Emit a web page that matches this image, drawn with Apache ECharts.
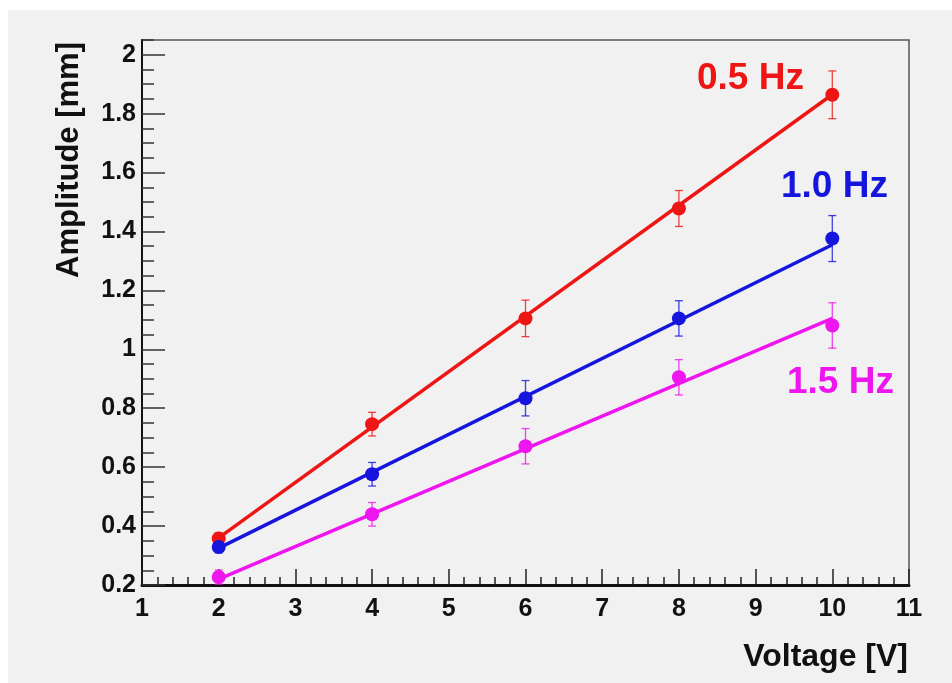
<!DOCTYPE html>
<html><head><meta charset="utf-8">
<script src="https://cdn.jsdelivr.net/npm/echarts@6/dist/echarts.min.js"></script>
<style>
html,body{margin:0;padding:0;background:#fff;}
#bg{position:absolute;left:8px;top:10px;width:944px;height:673px;background:#f1f1f1;}
#chart{position:absolute;left:0;top:0;width:952px;height:683px;}
</style></head><body>
<div id="bg"></div><div id="chart"></div>
<script>
const voltage = [2, 4, 6, 8, 10];
const amp05 = [0.358, 0.746, 1.105, 1.478, 1.864];
const err05 = [0.02, 0.04, 0.062, 0.061, 0.081];
const amp10 = [0.329, 0.576, 0.834, 1.105, 1.376];
const err10 = [0.02, 0.04, 0.06, 0.06, 0.078];
const amp15 = [0.227, 0.44, 0.671, 0.905, 1.081];
const err15 = [0.024, 0.04, 0.06, 0.06, 0.077];
const fitX = [2, 10];
const fit05 = [0.36, 1.865];
const fit10 = [0.325, 1.355];
const fit15 = [0.22, 1.105];
const seriesNames = ['0.5 Hz', '1.0 Hz', '1.5 Hz'];
const colors = ['#ee1515', '#1515dd', '#ee15ee'];

const FONT = '"Liberation Sans", Arial, Helvetica, sans-serif';
const chart = echarts.init(document.getElementById('chart'));

function errSeries(amp, err, color) {
  return {
    type: 'custom', xAxisIndex: 0, yAxisIndex: 0, z: 3, silent: true,
    data: voltage.map((v, i) => [v, amp[i], err[i]]),
    renderItem: function (params, api) {
      const x = api.value(0), y = api.value(1), e = api.value(2);
      const t = api.coord([x, y + e]), b = api.coord([x, y - e]);
      const c = 4;
      const st = { stroke: color, lineWidth: 1.3, opacity: 0.8 };
      return { type: 'group', children: [
        { type: 'line', shape: { x1: t[0], y1: t[1], x2: b[0], y2: b[1] }, style: st },
        { type: 'line', shape: { x1: t[0] - c, y1: t[1], x2: t[0] + c, y2: t[1] }, style: st },
        { type: 'line', shape: { x1: b[0] - c, y1: b[1], x2: b[0] + c, y2: b[1] }, style: st }
      ]};
    }
  };
}
function fitSeries(fit, color, name) {
  return { type: 'line', name: name, xAxisIndex: 0, yAxisIndex: 0, z: 4, symbol: 'none', silent: true,
    data: fitX.map((x, i) => [x, fit[i]]), lineStyle: { color: color, width: 3.5 } };
}
function ptSeries(amp, color, name) {
  return { type: 'scatter', name: name, xAxisIndex: 0, yAxisIndex: 0, z: 5, symbol: 'circle', symbolSize: 14, silent: true,
    data: voltage.map((v, i) => [v, amp[i]]), itemStyle: { color: color, opacity: 1 } };
}
const amps = [amp05, amp10, amp15], errs = [err05, err10, err15], fits = [fit05, fit10, fit15];
const series = [];
for (let k = 0; k < 3; k++) {
  series.push(errSeries(amps[k], errs[k], colors[k]));
  series.push(fitSeries(fits[k], colors[k], seriesNames[k]));
  series.push(ptSeries(amps[k], colors[k], seriesNames[k]));
}

chart.setOption({
  animation: false,
  grid: { left: 142, right: 43, top: 40, bottom: 98, show: true, borderColor: '#555', borderWidth: 1.5, backgroundColor: 'transparent' },
  xAxis: {
    type: 'value', min: 1, max: 11, interval: 1,
    axisLine: { show: true, onZero: false, lineStyle: { color: '#111', width: 3 } },
    axisTick: { show: true, inside: true, length: 16, lineStyle: { color: '#222', width: 1.5 } },
    minorTick: { show: true, splitNumber: 5, length: 8, lineStyle: { color: '#222', width: 1.5 } },
    splitLine: { show: false },
    axisLabel: { color: '#111', fontSize: 25, fontWeight: 'bold', fontFamily: FONT, margin: 12 }
  },
  yAxis: [{
    type: 'value', min: 0.2, max: 2.05, interval: 0.2,
    axisLine: { show: true, onZero: false, lineStyle: { color: '#111', width: 2 } },
    axisTick: { show: true, inside: true, length: 23, lineStyle: { color: '#333', width: 1.5 } },
    splitLine: { show: false },
    axisLabel: { color: '#111', fontSize: 25, fontWeight: 'bold', fontFamily: FONT, margin: 6, showMaxLabel: false }
  }, {
    type: 'value', min: 0.2, max: 2.05, interval: 0.05, position: 'left',
    axisLine: { show: false },
    axisTick: { show: true, inside: true, length: 12, lineStyle: { color: '#333', width: 1.5 } },
    splitLine: { show: false },
    axisLabel: { show: false }
  }],
  graphic: [
    { type: 'text', x: 69, y: 160, rotation: Math.PI / 2,
      style: { text: 'Amplitude [mm]', fill: '#111', font: 'bold 31px ' + FONT, textAlign: 'center', textVerticalAlign: 'middle' } },
    { type: 'text', x: 908, y: 657,
      style: { text: 'Voltage [V]', fill: '#111', font: 'bold 32px ' + FONT, textAlign: 'right', textVerticalAlign: 'middle' } },
    { type: 'text', x: 697, y: 79,
      style: { text: seriesNames[0], fill: colors[0], font: 'bold 37px ' + FONT, textAlign: 'left', textVerticalAlign: 'middle' } },
    { type: 'text', x: 781, y: 187,
      style: { text: seriesNames[1], fill: colors[1], font: 'bold 37px ' + FONT, textAlign: 'left', textVerticalAlign: 'middle' } },
    { type: 'text', x: 787, y: 383,
      style: { text: seriesNames[2], fill: colors[2], font: 'bold 37px ' + FONT, textAlign: 'left', textVerticalAlign: 'middle' } }
  ],
  series: series
});
</script></body></html>
